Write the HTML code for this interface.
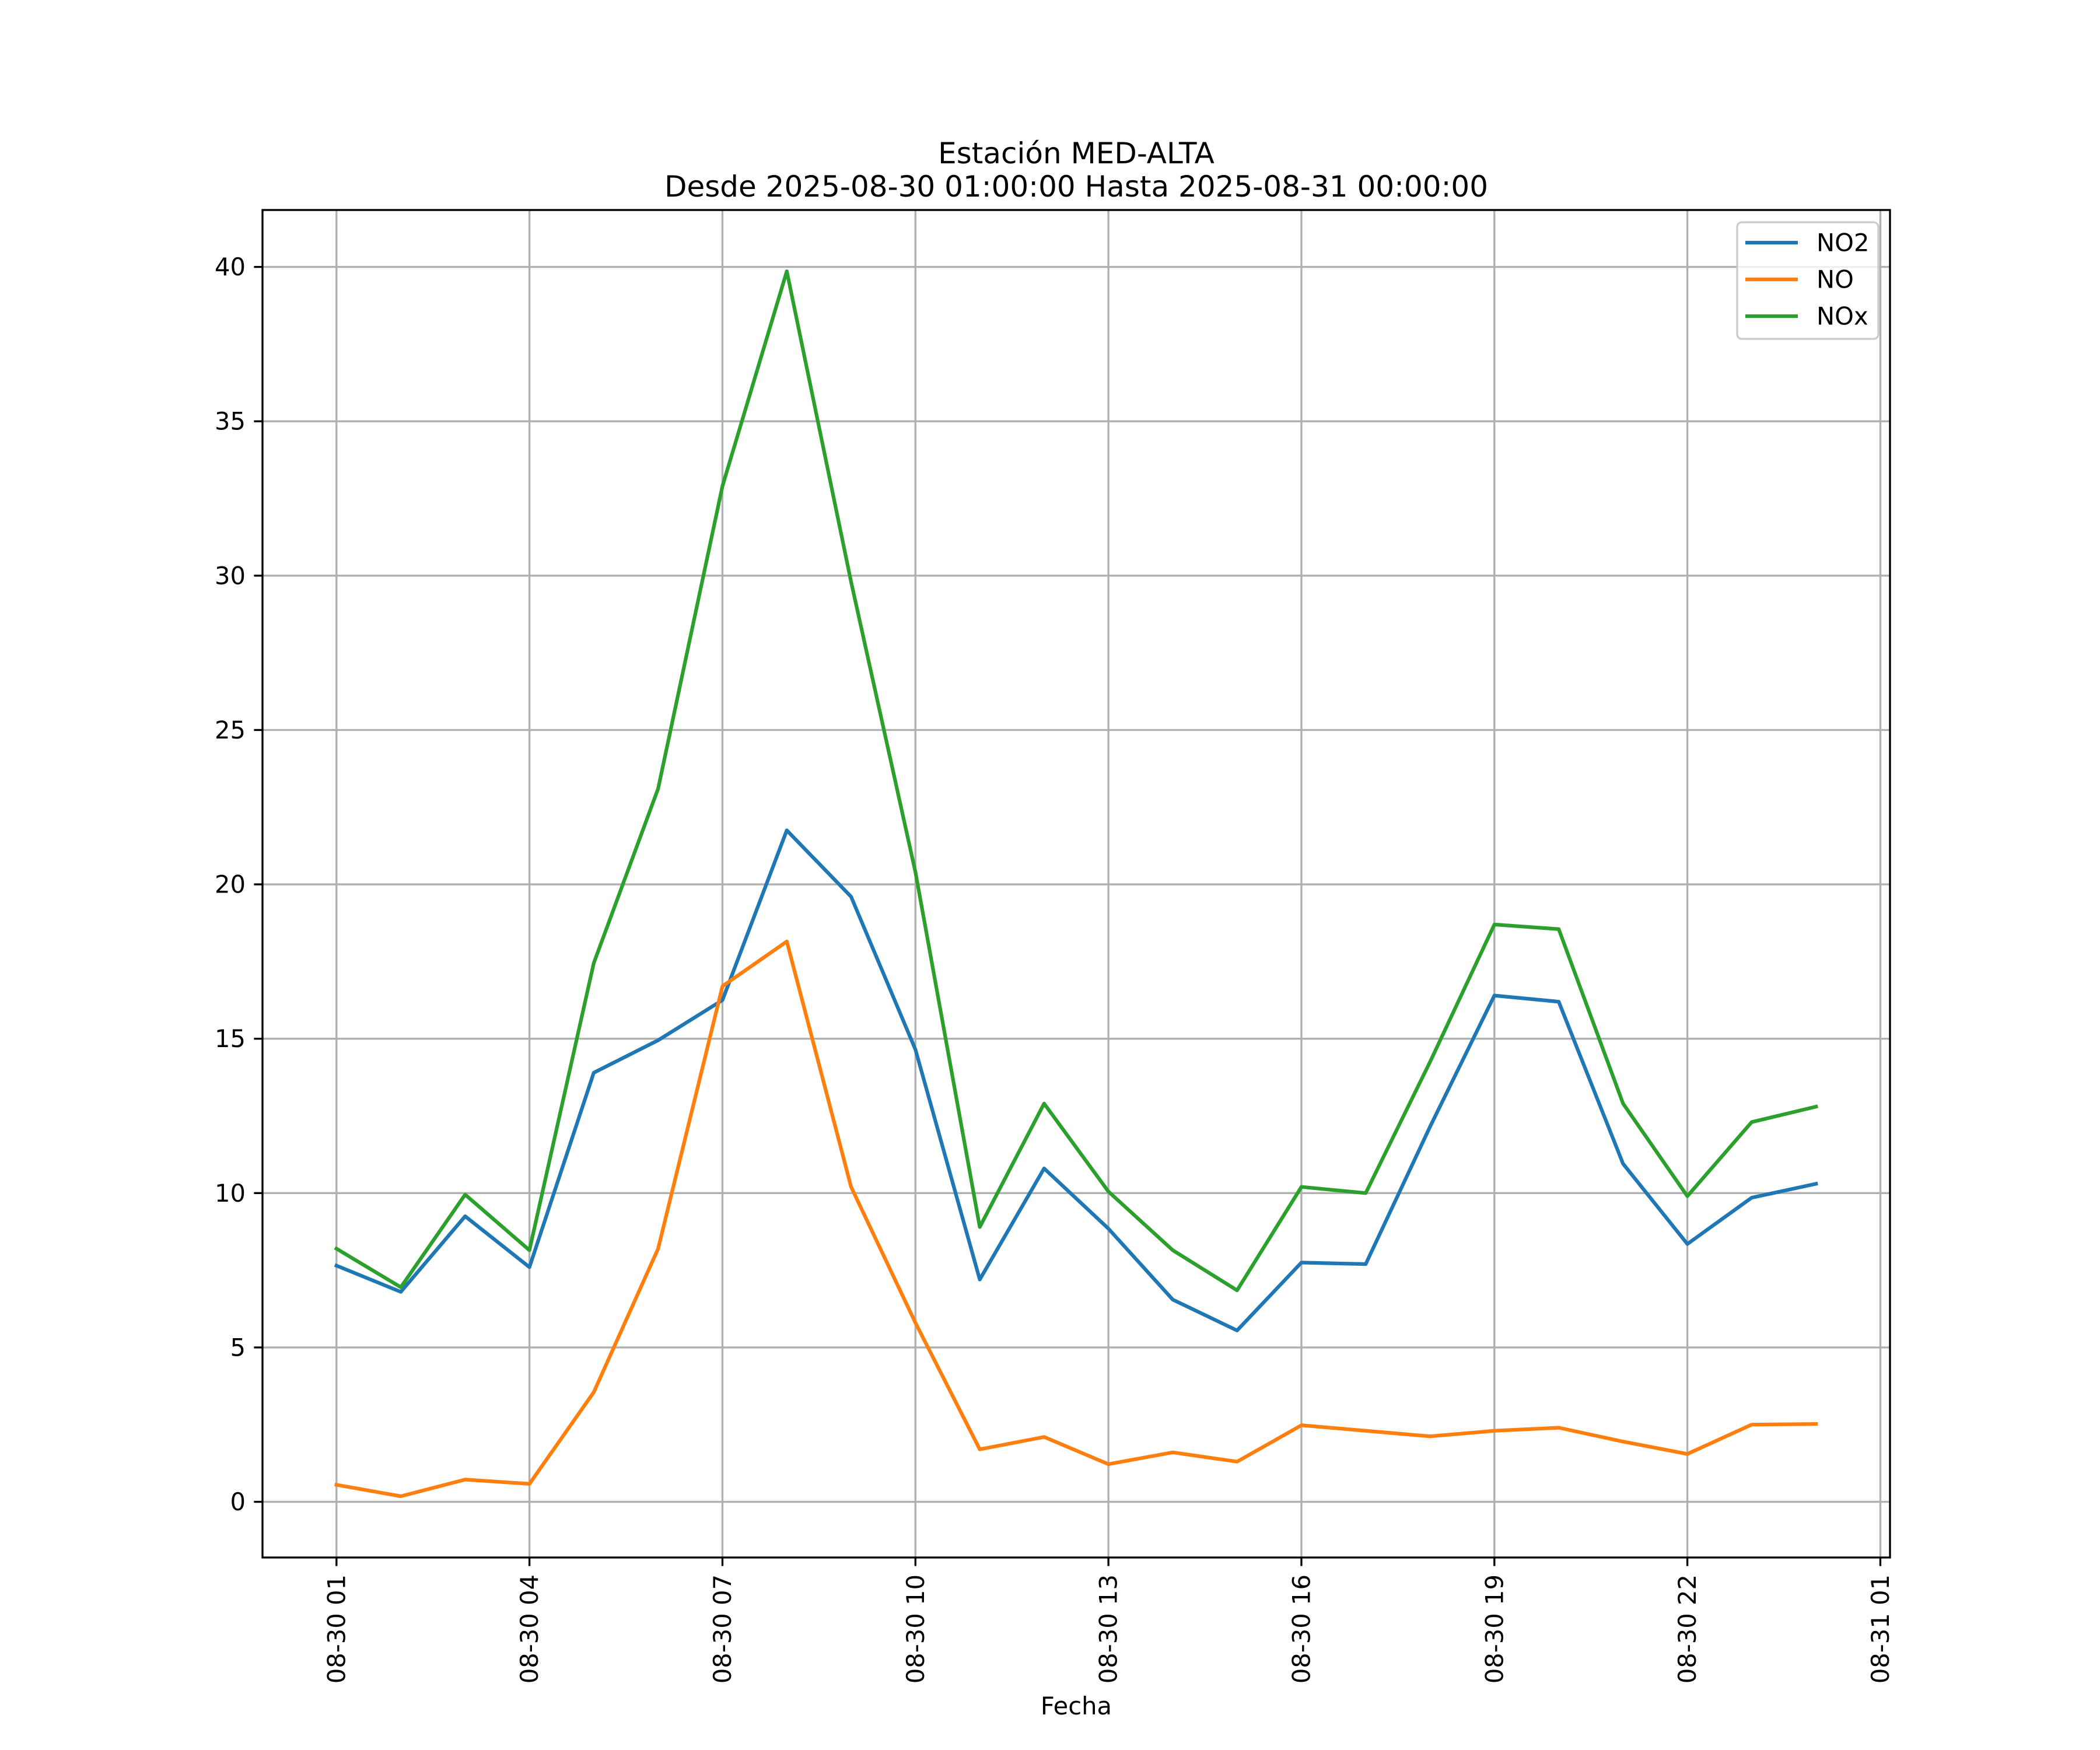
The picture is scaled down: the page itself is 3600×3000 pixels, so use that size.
<!DOCTYPE html>
<html><head><meta charset="utf-8"><style>
html,body{margin:0;padding:0;background:#fff;}
svg{display:block;font-family:"DejaVu Sans","Liberation Sans",sans-serif;}
</style></head><body>
<svg id="chart" width="3600" height="3000" viewBox="0 0 3600 3000" xmlns="http://www.w3.org/2000/svg">
<rect x="0" y="0" width="3600" height="3000" fill="#fff"/>
<text x="1845" y="280" font-size="50" text-anchor="middle">Estación MED-ALTA</text>
<text x="1845" y="337" font-size="50" text-anchor="middle">Desde 2025-08-30 01:00:00 Hasta 2025-08-31 00:00:00</text>
<g id="grid"></g>
<g id="series"></g>
<rect x="450" y="360" width="2790" height="2310" fill="none" stroke="#000" stroke-width="3.33"/>
<g id="ticks"></g>
<text x="1845" y="2939" font-size="41.67" text-anchor="middle">Fecha</text>
<g id="legend">
<rect x="2978" y="381" width="242" height="200" rx="8" fill="#fff" fill-opacity="0.8" stroke="#cccccc" stroke-width="3.33"/>
</g>
</svg>
<script>
const hours = [1,2,3,4,5,6,7,8,9,10,11,12,13,14,15,16,17,18,19,20,21,22,23,24];
const no2 = [7.65,6.8,9.25,7.6,13.9,14.95,16.25,21.75,19.6,14.65,7.2,10.8,8.85,6.55,5.55,7.75,7.7,12.15,16.4,16.2,10.95,8.35,9.85,10.3];
const no = [0.55,0.18,0.72,0.58,3.55,8.2,16.7,18.15,10.2,5.8,1.7,2.1,1.22,1.6,1.3,2.48,2.3,2.12,2.3,2.4,1.95,1.55,2.5,2.52];
const nox = [8.2,6.95,9.95,8.15,17.45,23.1,32.9,39.86,29.8,20.4,8.9,12.9,10.05,8.15,6.85,10.2,10.0,14.25,18.7,18.55,12.9,9.9,12.3,12.8];
const xTickHours = [1,4,7,10,13,16,19,22,25];
const xTickLabels = ["08-30 01","08-30 04","08-30 07","08-30 10","08-30 13","08-30 16","08-30 19","08-30 22","08-31 01"];
const yTicks = [0,5,10,15,20,25,30,35,40];
const seriesNames = ["NO2","NO","NOx"];
const seriesColors = ["#1f77b4","#ff7f0e","#2ca02c"];

const NS="http://www.w3.org/2000/svg";
const L=450,R=3240,T=360,B=2670;
const xmin=hours[0], xmax=hours[hours.length-1], xm=(xmax-xmin)*0.05;
const all=no2.concat(no,nox);
const ymin=Math.min(...all), ymax=Math.max(...all), ym=(ymax-ymin)*0.05;
const X=v=>L+(v-(xmin-xm))/((xmax+xm)-(xmin-xm))*(R-L);
const Y=v=>B-(v-(ymin-ym))/((ymax+ym)-(ymin-ym))*(B-T);
function mk(tag,attrs,parent){const e=document.createElementNS(NS,tag);for(const k in attrs)e.setAttribute(k,attrs[k]);parent.appendChild(e);return e;}
const grid=document.getElementById('grid'),ticks=document.getElementById('ticks'),series=document.getElementById('series'),legend=document.getElementById('legend');

xTickHours.forEach((h,i)=>{
  const x=X(h);
  const g=mk('line',{x1:x,x2:x,y1:T,y2:B,stroke:'#b0b0b0','stroke-width':3.33},grid);
  
  
  const t=mk('line',{x1:x,x2:x,y1:B,y2:B+14.6,stroke:'#000','stroke-width':3.33},ticks);
  
  
  const lb=mk('text',{x:0,y:0,'font-size':41.67,'text-anchor':'end','dominant-baseline':'central',transform:`translate(${x},${B+29}) rotate(-90)`},ticks);
  lb.textContent=xTickLabels[i];
  
  
});
yTicks.forEach(v=>{
  const y=Y(v);
  const g=mk('line',{x1:L,x2:R,y1:y,y2:y,stroke:'#b0b0b0','stroke-width':3.33},grid);
  
  
  const t=mk('line',{x1:L-14.6,x2:L,y1:y,y2:y,stroke:'#000','stroke-width':3.33},ticks);
  
  
  const lb=mk('text',{x:L-29,y:y,'font-size':41.67,'text-anchor':'end','dominant-baseline':'central'},ticks);
  lb.textContent=String(v);
  
  
});
[no2,no,nox].forEach((vals,si)=>{
  const pts=vals.map((v,i)=>X(hours[i]).toFixed(1)+','+Y(v).toFixed(1)).join(' ');
  const p=mk('polyline',{points:pts,fill:'none',stroke:seriesColors[si],'stroke-width':6.25,'stroke-linejoin':'round','stroke-linecap':'square'},series);
  
  
  const ly=416+si*63;
  const ll=mk('line',{x1:2992,x2:3082,y1:ly,y2:ly,stroke:seriesColors[si],'stroke-width':6.25},legend);
  
  
  const lt=mk('text',{x:3114,y:ly,'font-size':41.67,'dominant-baseline':'central'},legend);
  lt.textContent=seriesNames[si];
  
  
});
</script>
</body></html>
